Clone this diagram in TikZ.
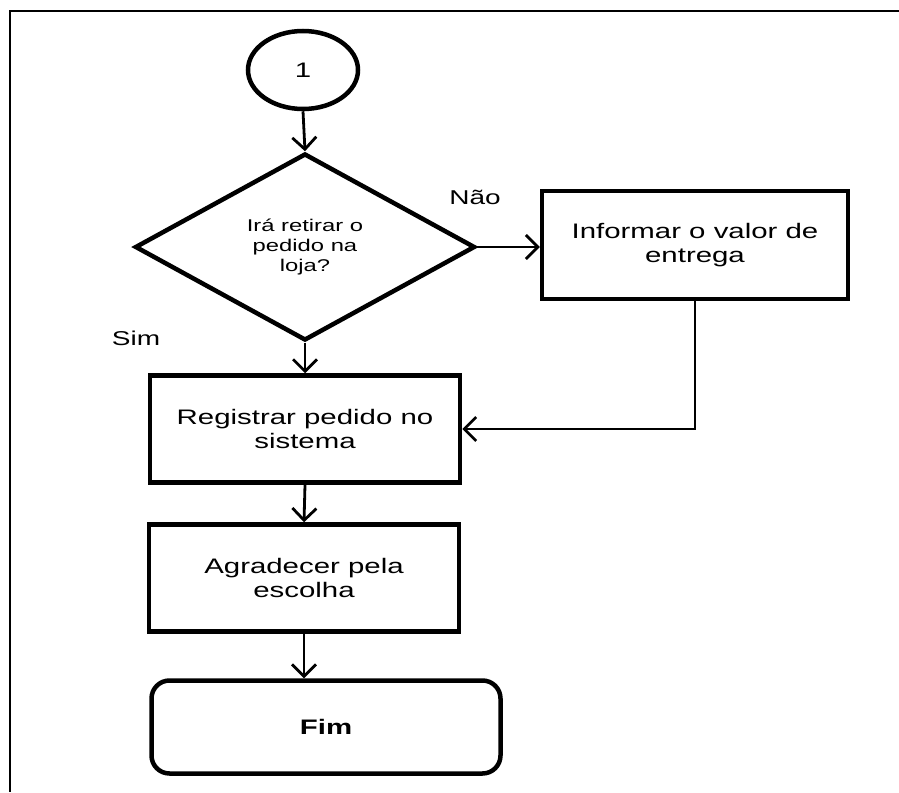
\documentclass[tikz,border=0pt]{standalone}
\usepackage{fontspec}
\setmainfont{Liberation Sans}[FakeStretch=1.4]
\usepackage{tikz}
\usetikzlibrary{arrows.meta,shapes}
\tikzstyle{startc}	=[ellipse,draw=black,line width=4.5pt,minimum width=110pt,minimum height=78pt,inner sep=0pt,font=\fontsize{21}{24}\selectfont]
\tikzstyle{decide}	=[diamond,draw=black,line width=4.5pt,minimum width=340pt,minimum height=187pt,inner sep=0pt,align=center,font=\fontsize{17}{20}\selectfont]
\tikzstyle{procbox}	=[rectangle,draw=black,line width=4.5pt,minimum width=310pt,minimum height=107pt,inner sep=0pt,align=center,font=\fontsize{21}{24}\selectfont]
\tikzstyle{endbox}	=[procbox,rounded corners=18pt,minimum width=349pt,minimum height=93pt,font=\fontsize{21}{24}\selectfont\bfseries]
\tikzstyle{lbl}		=[inner sep=0pt,font=\fontsize{20}{23}\selectfont]
\tikzstyle{edgefl} 	=[draw,line width=2.8pt,-{Straight Barb[length=12pt,width=24pt]}]
\tikzstyle{frame} 	=[draw,line width=2pt]

\begin{document}
\begin{tikzpicture}[x=1pt,y=-1pt]
		\useasboundingbox (0,0) rectangle (899,792);
		\path[frame] (899,11) -- (10,11) -- (10,792);
		
		%%%%% Start, decision and steps
		\node[startc] (start) at (303,70) {1};
		\node[decide] (dec) at (305,247) {Irá retirar o\\pedido na\\loja?};
		\node[procbox,minimum width=306pt,minimum height=108pt] (info) at (695,245) {Informar o valor de\\entrega};
		\node[procbox] (reg) at (305,429) {Registrar pedido no\\sistema};
		\node[procbox] (agr) at (304,578) {Agradecer pela\\escolha};
		\node[endbox] (fim) at (326,727) {Fim};
		
		%%%% labels
		\node[lbl] (nao) at (475,197) {Não};
		\node[lbl] (sim) at (136,338) {Sim};
		
		%%%% Flow
		\foreach \source/ \dest in {start.south/dec.north,dec.south/reg.north,reg.south/agr.north}	\path[edgefl] (\source) -- (\dest) ;
		\path[edgefl] (dec.east) -- (dec.east -| info.west);
		\path[edgefl] (agr.south) -- (agr.south |- fim.north);
		\path[edgefl] (info.south) |- (reg.east);
\end{tikzpicture}
\end{document}
